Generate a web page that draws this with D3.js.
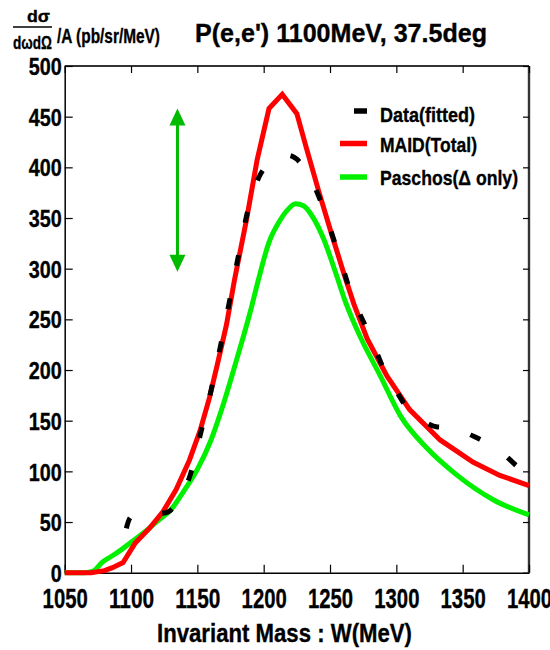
<!DOCTYPE html>
<html>
<head>
<meta charset="utf-8">
<script src="https://cdn.jsdelivr.net/npm/d3@7"></script>
<style>
body{margin:0;background:#fff;}
text{font-family:"Liberation Sans",Arial,Helvetica,sans-serif;font-weight:bold;stroke:#000;stroke-width:0.35px;}
</style>
</head>
<body>
<div id="chart"></div>
<script>
// tick values
var xTicks=[1050,1100,1150,1200,1250,1300,1350,1400],
	yTicks=[0,50,100,150,200,250,300,350,400,450,500];

// MAID (Total) - red
var maid=[[1050,0],[1070,0],[1080,2],[1086,5],[1094,10],[1103,29],[1114,44],[1124,60],[1134,82],[1144,111],
	[1152,140],[1159,172],[1165,205],[1172,245],[1178,289],[1187,348],[1195,407],[1204,458],[1214,472],
	[1225,453],[1232,420],[1242,374],[1251,335],[1260,297],[1268,265],[1278,231],[1293,194],[1310,161],
	[1333,131],[1358,109],[1378,96],[1400,86]];

// Paschos (Delta only) - green
var paschos=[[1050,0],[1065,0],[1072,2],[1078,10],[1085,16],[1092,22],[1100,30],[1110,40],[1120,51],
	[1130,62],[1140,81],[1150,102],[1160,130],[1170,168],[1180,212],[1190,258],[1196,289],[1204,326],
	[1212,347],[1218,358],[1224,364],[1230,362],[1236,353],[1245,330],[1254,297],[1262,266],[1272,235],
	[1288,194],[1303,155],[1323,123],[1345,97],[1373,72],[1400,57]];

// Data (fitted) - black dashed
var fitted=[[1095,36],[1100,55],[1110,57],[1120,58],[1128,60],[1136,72],[1145,98],[1152,135],[1160,178],
	[1170,240],[1181,313],[1188,357],[1195,386],[1200,398],[1210,405],[1218,412],[1225,408],[1232,396],
	[1241,373],[1250,340],[1257,312],[1266,275],[1279,237],[1292,197],[1301,177],[1310,159],[1320,150],
	[1330,144],[1345,143],[1356,136],[1368,128],[1380,118],[1392,104],[1400,97]];

// arrow (W, [low,high])
var arrowW=1135,
	arrowRange=[297,458];

var legendItems=[
	{name:"Data(fitted)",color:"#000",dash:true,w:95},
	{name:"MAID(Total)",color:"#ff0000",w:97},
	{name:"Paschos(\u0394 only)",color:"#00f000",w:138}
];

var WIDTH=550,HEIGHT=650;

// squeeze text to a width (original font is a narrow helvetica)
function fit(sel,w){
	sel.attr("textLength",w).attr("lengthAdjust","spacingAndGlyphs");
	return sel;
}

var svg=d3.select("#chart").append("svg")
	.attr("width",WIDTH)
	.attr("height",HEIGHT);

var x=d3.scaleLinear().domain([1050,1400]).range([64.7,529]),
	y=d3.scaleLinear().domain([0,500]).range([572.7,66]);

// frame (top/right slightly heavier, grey)
svg.append("line").attr("x1",x(1050)).attr("x2",x(1400)).attr("y1",y(500)).attr("y2",y(500))
	.style("stroke","#333").style("stroke-width",2);
svg.append("line").attr("x1",x(1400)).attr("x2",x(1400)).attr("y1",y(500)).attr("y2",y(0))
	.style("stroke","#333").style("stroke-width",2.4);

var xAxis=svg.append("g")
	.attr("transform","translate(0,"+y(0)+")")
	.call(d3.axisBottom(x).tickValues(xTicks).tickSize(-8).tickPadding(15).tickSizeOuter(0).tickFormat(d3.format("d")));
xAxis.selectAll("text").style("font-size","28px").attr("fill","#000")
	.attr("textLength",function(d){return String(d).length*11.3;})
	.attr("lengthAdjust","spacingAndGlyphs");

var xTop=svg.append("g")
	.attr("transform","translate(0,"+y(500)+")")
	.call(d3.axisTop(x).tickValues(xTicks).tickSize(-7).tickSizeOuter(0).tickFormat(""));
xTop.select(".domain").remove();

var yAxis=svg.append("g")
	.attr("transform","translate("+x(1050)+",0)")
	.call(d3.axisLeft(y).tickValues(yTicks).tickSize(-8).tickPadding(3).tickSizeOuter(0));
yAxis.selectAll("text").style("font-size","24px").attr("fill","#000")
	.attr("dy","0.36em")
	.attr("textLength",function(d){return String(d).length*11;})
	.attr("lengthAdjust","spacingAndGlyphs");

var yRight=svg.append("g")
	.attr("transform","translate("+x(1400)+",0)")
	.call(d3.axisRight(y).tickValues(yTicks).tickSize(-6).tickSizeOuter(0).tickFormat(""));
yRight.select(".domain").remove();

svg.selectAll(".domain").style("stroke","#000").style("stroke-width",1.5);
svg.selectAll(".tick line").style("stroke","#000").style("stroke-width",1.2);

// curves
var lineLin=d3.line().x(function(d){return x(d[0]);}).y(function(d){return y(d[1]);}),
	lineSmooth=d3.line().curve(d3.curveMonotoneX).x(function(d){return x(d[0]);}).y(function(d){return y(d[1]);});

svg.append("path").datum(paschos)
	.attr("d",lineSmooth)
	.style("fill","none").style("stroke","#00f000").style("stroke-width",5);

svg.append("path").datum(maid)
	.attr("d",lineLin)
	.style("fill","none").style("stroke","#ff0000").style("stroke-width",5)
	.style("stroke-linejoin","miter");

svg.append("path").datum(fitted)
	.attr("d",lineSmooth)
	.style("fill","none").style("stroke","#000").style("stroke-width",5)
	.style("stroke-dasharray","11,33").style("stroke-dashoffset",-8);

// double arrow
var ax=x(arrowW),
	aTop=y(arrowRange[1]),
	aBot=y(arrowRange[0]),
	headW=8,headH=17,
	green="#00bb00";
svg.append("line").attr("x1",ax).attr("x2",ax).attr("y1",aTop+headH-2).attr("y2",aBot-headH+2)
	.style("stroke",green).style("stroke-width",3);
svg.append("path")
	.attr("d","M"+ax+","+aTop+"L"+(ax-headW)+","+(aTop+headH)+"L"+(ax+headW)+","+(aTop+headH)+"Z")
	.style("fill",green);
svg.append("path")
	.attr("d","M"+ax+","+aBot+"L"+(ax-headW)+","+(aBot-headH)+"L"+(ax+headW)+","+(aBot-headH)+"Z")
	.style("fill",green);

// legend
var legend=svg.append("g"),
	lineY=[111,143.5,177],
	textY=[121.5,152,185];
legendItems.forEach(function(d,i){
	legend.append("line").attr("x1",d.dash?354:340).attr("x2",367).attr("y1",lineY[i]).attr("y2",lineY[i])
		.style("stroke",d.color).style("stroke-width",5.5);
	fit(legend.append("text").attr("x",380).attr("y",textY[i])
		.style("font-size","21px").text(d.name),d.w);
});

// title
fit(svg.append("text").attr("x",195).attr("y",42)
	.style("font-size","26px").text("P(e,e') 1100MeV, 37.5deg"),292);

// x axis label
fit(svg.append("text").attr("x",157).attr("y",642)
	.style("font-size","26px").text("Invariant Mass : W(MeV)"),255);

// y axis label: fraction
var yl=svg.append("g");
fit(yl.append("text").attr("x",27).attr("y",22)
	.style("font-size","17px").text("d\u03c3"),23);
yl.append("line").attr("x1",13).attr("x2",52).attr("y1",27).attr("y2",27)
	.style("stroke","#000").style("stroke-width",1.3);
fit(yl.append("text").attr("x",13).attr("y",49)
	.style("font-size","19px").text("d\u03c9d\u03a9"),39);
fit(yl.append("text").attr("x",57).attr("y",43)
	.style("font-size","21px").text("/A (pb/sr/MeV)"),103);
</script>
</body>
</html>
